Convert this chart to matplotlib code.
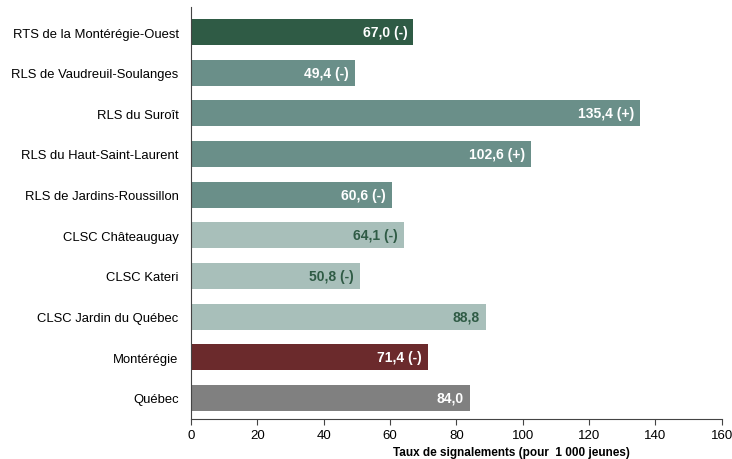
import matplotlib.pyplot as plt
import numpy as np

plt.rcParams['font.family'] = ['Liberation Sans', 'DejaVu Sans']

territoires = ['RTS de la Montérégie-Ouest', 'RLS de Vaudreuil-Soulanges', 'RLS du Suroît',
               'RLS du Haut-Saint-Laurent', 'RLS de Jardins-Roussillon', 'CLSC Châteauguay',
               'CLSC Kateri', 'CLSC Jardin du Québec', 'Montérégie', 'Québec']
taux = [67.0, 49.4, 135.4, 102.6, 60.6, 64.1, 50.8, 88.8, 71.4, 84.0]
signes = ['(-)', '(-)', '(+)', '(+)', '(-)', '(-)', '(-)', '', '(-)', '']

couleurs = ['#2f5b45', '#6a8f89', '#6a8f89', '#6a8f89', '#6a8f89',
            '#a8bfba', '#a8bfba', '#a8bfba', '#6b2a2c', '#808080']
couleurs_txt = ['white', 'white', 'white', 'white', 'white',
                '#2f5b45', '#2f5b45', '#2f5b45', 'white', 'white']

fig = plt.figure(figsize=(7.32, 4.6), dpi=100)
ax = fig.add_axes([0.261, 0.087, 0.725, 0.896])

y = np.arange(len(territoires))
ax.barh(y, taux, height=0.64, color=couleurs)

for i, v in enumerate(taux):
    txt = f'{v:.1f}'.replace('.', ',')
    if signes[i]:
        txt += ' ' + signes[i]
    ax.text(v - 1.8, i, txt, ha='right', va='center', fontsize=10,
            fontweight='bold', color=couleurs_txt[i])

ax.set_yticks(y)
ax.set_yticklabels(territoires, fontsize=9.4)
ax.tick_params(axis='y', length=0, pad=9)
ax.set_ylim(9.52, -0.62)

ax.set_xlim(0, 160)
ax.set_xticks(np.arange(0, 161, 20))
ax.tick_params(axis='x', labelsize=9.5, length=4, color='#444444')

for s in ['top', 'right']:
    ax.spines[s].set_visible(False)
ax.spines['left'].set_color('#444444')
ax.spines['bottom'].set_color('#444444')

ax.set_xlabel('Taux de signalements (pour  1 000 jeunes)', fontsize=8.5, fontweight='bold')
ax.xaxis.set_label_coords(0.603, -0.066)

fig.savefig('out.png', dpi=100)
